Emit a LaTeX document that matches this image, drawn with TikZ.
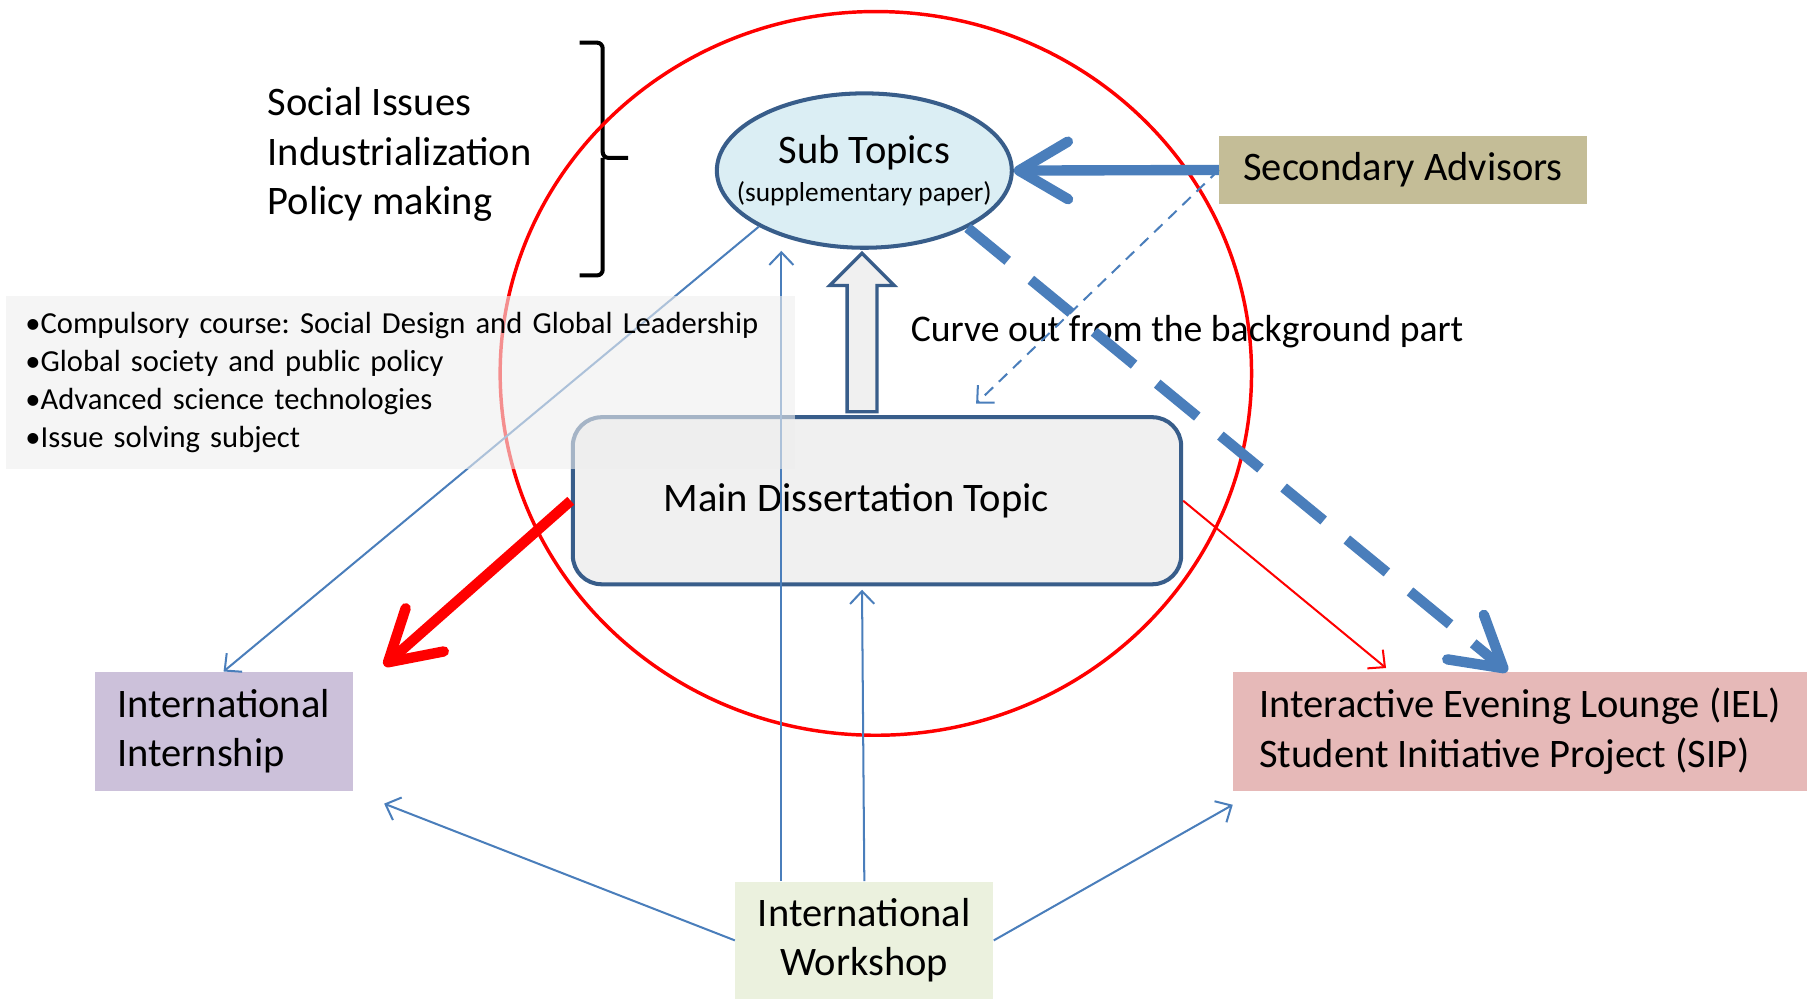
\documentclass[tikz,border=0pt]{standalone}
\usepackage{fontspec}
\setmainfont{Carlito}
\usetikzlibrary{arrows.meta,calc,shapes.geometric}
\frenchspacing

\definecolor{framecol}{HTML}{385D8A}
\definecolor{linkcol}{HTML}{4A7EBB}
\definecolor{subfill}{HTML}{DBEEF4}
\definecolor{advfill}{HTML}{C4BD97}
\definecolor{internfill}{HTML}{CCC1DA}
\definecolor{ielfill}{HTML}{E6B9B8}
\definecolor{wsfill}{HTML}{EBF1DE}
\definecolor{mainfill}{HTML}{F0F0F0}
\definecolor{listfill}{HTML}{EEEEEE}

\newcommand{\bigtext}{\fontsize{20}{24.4}\selectfont}
\newcommand{\midtext}{\fontsize{18.6}{22}\selectfont}
\newcommand{\listtext}{\fontsize{15.1}{18.8}\selectfont}
\newcommand{\smalltext}{\fontsize{13.5}{16}\selectfont}

\begin{document}
\begin{tikzpicture}[
    x = 0.02cm, y = -0.02cm, % one unit = one pixel of the layout, y runs down
    font = \bigtext,
    link/.style = {draw = linkcol, line width = 0.035cm,
        -{Straight Barb[length=0.22cm,width=0.42cm]}},
    biglink/.style = {line width = 0.18cm,
        -{Straight Barb[length=0.85cm,width=1.0cm,round]}},
    label/.style = {inner sep = 0pt, align = left}
    ]

    \tikzset{
    subtopic/.style = {ellipse, draw = framecol, line width = 0.07cm,
        fill = subfill, minimum width = 5.12cm, minimum height = 2.68cm,
        inner xsep = -0.45cm, inner ysep = 0pt, align = center},
    flatbox/.style = {rectangle, inner sep = 0pt, align = left},
    mainbox/.style = {rectangle, rounded corners = 0.5cm, draw = framecol,
        line width = 0.07cm, fill = mainfill, minimum width = 10.56cm,
        minimum height = 2.9cm}
    }

    \useasboundingbox (0,0) rectangle (1568,870);

    % bracket for the issues
    \draw[black, line width = 0.07cm, rounded corners = 0.1cm]
        (503,37) -| (523,137) -- (545,137) (523,137) |- (503,239);
    % red ring round the topics
    \draw[red, line width = 0.06cm] (760,324) ellipse [x radius = 326, y radius = 314];

    \node[label] (issues) [anchor = west] at (232,134)
        {Social Issues\\Industrialization\\Policy making};
    \node[label, font = \midtext] (curve) [anchor = west] at (790,288)
        {Curve out from the background part};

    \node[subtopic] (sub) at (750,148)
        {Sub Topics\\[-6pt]{\smalltext (supplementary paper)}};
    \node[flatbox, fill = advfill, minimum width = 6.38cm,
        minimum height = 1.18cm] (adv) at (1217.5,147.5) {Secondary Advisors};
    \node[mainbox] (main) at (761,434.5)
        {Main Dissertation Topic\hspace*{0.72cm}};
    \node[flatbox, fill = internfill, minimum width = 4.48cm,
        minimum height = 2.06cm] (intern) at (194,634.5)
        {International\\Internship};
    \node[flatbox, fill = ielfill, minimum width = 9.96cm,
        minimum height = 2.06cm] (iel) at (1319,634.5)
        {Interactive Evening Lounge (IEL)\\Student Initiative Project (SIP)};
    \node[flatbox, fill = wsfill, minimum width = 4.48cm,
        minimum height = 2.04cm, align = center] (ws) at (750,816)
        {International\\Workshop};

    % thick links
    \draw[biglink, linkcol] (adv.west) -- (sub.east);
    \draw[biglink, linkcol, dash pattern = on 0.9cm off 0.52cm]
        (sub.331) -- ([xshift = -0.22cm]iel.north);
    \draw[biglink, red] (main.west) -- ($(intern.north east)+(27,-5)$);

    % thin links
    \draw[link, dash pattern = on 0.2cm off 0.14cm]
        (adv.west) -- ($(main.north)+(86,-10)$);
    \draw[link] (sub.208) -- (intern.north);
    \draw[link, draw = red] (main.east) -- ($(iel.north west)+(133,-3)$);
    \draw[link] ($(ws.north)+(-72,0)$) -- ($(ws.north)+(-72,-547)$);
    \draw[link] (ws.north) -- ($(ws.north |- main.south)+(-2,3)$);
    \draw[link] (ws.west) -- ($(intern.south east)+(27,11)$);
    \draw[link] (ws.east) -- ($(iel.south west)+(0,12)$);

    % hollow arrow from the main topic up to the sub topics
    \coordinate (tip) at ($(sub.south)+(-2,3)$);
    \coordinate (base) at (tip |- main.north);
    \draw[framecol, line width = 0.06cm, fill = mainfill]
        ($(base)+(-13,-3)$) -- ($(tip)+(-13,28)$) -- ($(tip)+(-28,28)$)
        -- (tip) -- ($(tip)+(28,28)$) -- ($(tip)+(13,28)$)
        -- ($(base)+(13,-3)$) -- cycle;

    % course list, laid over the ring
    \node[flatbox, fill = listfill, fill opacity = 0.6, text opacity = 1,
        minimum width = 13.7cm, minimum height = 3cm, inner xsep = 0.34cm,
        text width = 13.02cm, font = \listtext] (courses) at (347.5,332)
        {•Compulsory course: Social Design and Global Leadership\\
         •Global society and public policy\\
         •Advanced science technologies\\
         •Issue solving subject};
\end{tikzpicture}
\end{document}
